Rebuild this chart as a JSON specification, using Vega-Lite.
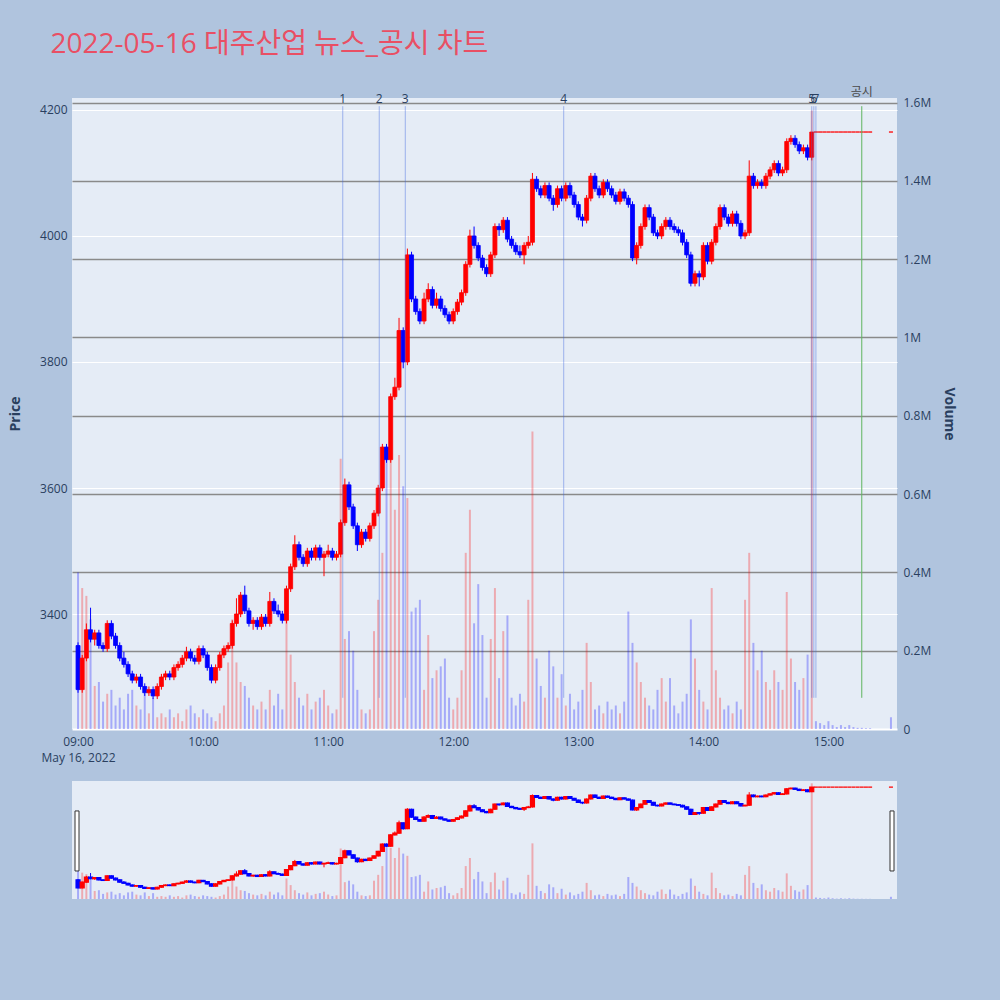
{
"$schema": "https://vega.github.io/schema/vega-lite/v6.json",
"background": "#B0C4DE",
"padding": {"left": 8, "right": 44, "top": 30, "bottom": 103},
"title": {"text": "2022-05-16 대주산업 뉴스_공시 차트", "anchor": "start", "frame": "bounds", "fontSize": 28, "font": "Open Sans, Noto Sans CJK KR", "fontWeight": "normal", "color": "#E94F64", "baseline": "alphabetic", "offset": 5, "dx": 42},
"datasets": {
"ohlc": [
{"t":"2022-05-16T09:00","o":3350,"h":3355,"l":3275,"c":3280,"v":400000},
{"t":"2022-05-16T09:02","o":3280,"h":3335,"l":3275,"c":3330,"v":360000},
{"t":"2022-05-16T09:04","o":3330,"h":3385,"l":3325,"c":3375,"v":340000},
{"t":"2022-05-16T09:06","o":3375,"h":3410,"l":3355,"c":3360,"v":280000},
{"t":"2022-05-16T09:08","o":3360,"h":3375,"l":3350,"c":3370,"v":110000},
{"t":"2022-05-16T09:10","o":3370,"h":3375,"l":3345,"c":3350,"v":120000},
{"t":"2022-05-16T09:12","o":3350,"h":3355,"l":3340,"c":3345,"v":70000},
{"t":"2022-05-16T09:14","o":3345,"h":3390,"l":3340,"c":3385,"v":90000},
{"t":"2022-05-16T09:16","o":3385,"h":3390,"l":3360,"c":3365,"v":100000},
{"t":"2022-05-16T09:18","o":3365,"h":3370,"l":3345,"c":3350,"v":60000},
{"t":"2022-05-16T09:20","o":3350,"h":3355,"l":3325,"c":3330,"v":80000},
{"t":"2022-05-16T09:22","o":3330,"h":3340,"l":3315,"c":3320,"v":50000},
{"t":"2022-05-16T09:24","o":3320,"h":3325,"l":3300,"c":3305,"v":90000},
{"t":"2022-05-16T09:26","o":3305,"h":3310,"l":3290,"c":3295,"v":100000},
{"t":"2022-05-16T09:28","o":3295,"h":3305,"l":3290,"c":3300,"v":60000},
{"t":"2022-05-16T09:30","o":3300,"h":3305,"l":3280,"c":3285,"v":50000},
{"t":"2022-05-16T09:32","o":3285,"h":3290,"l":3270,"c":3275,"v":90000},
{"t":"2022-05-16T09:34","o":3275,"h":3285,"l":3270,"c":3280,"v":40000},
{"t":"2022-05-16T09:36","o":3280,"h":3285,"l":3265,"c":3270,"v":80000},
{"t":"2022-05-16T09:38","o":3270,"h":3290,"l":3265,"c":3285,"v":30000},
{"t":"2022-05-16T09:40","o":3285,"h":3305,"l":3280,"c":3300,"v":40000},
{"t":"2022-05-16T09:42","o":3300,"h":3310,"l":3295,"c":3305,"v":30000},
{"t":"2022-05-16T09:44","o":3305,"h":3310,"l":3295,"c":3300,"v":50000},
{"t":"2022-05-16T09:46","o":3300,"h":3320,"l":3295,"c":3315,"v":30000},
{"t":"2022-05-16T09:48","o":3315,"h":3325,"l":3310,"c":3320,"v":40000},
{"t":"2022-05-16T09:50","o":3320,"h":3335,"l":3315,"c":3330,"v":20000},
{"t":"2022-05-16T09:52","o":3330,"h":3348,"l":3325,"c":3340,"v":50000},
{"t":"2022-05-16T09:54","o":3340,"h":3345,"l":3325,"c":3330,"v":60000},
{"t":"2022-05-16T09:56","o":3330,"h":3335,"l":3320,"c":3325,"v":40000},
{"t":"2022-05-16T09:58","o":3325,"h":3350,"l":3320,"c":3345,"v":30000},
{"t":"2022-05-16T10:00","o":3345,"h":3350,"l":3330,"c":3335,"v":50000},
{"t":"2022-05-16T10:02","o":3335,"h":3340,"l":3310,"c":3315,"v":40000},
{"t":"2022-05-16T10:04","o":3315,"h":3320,"l":3290,"c":3295,"v":30000},
{"t":"2022-05-16T10:06","o":3295,"h":3320,"l":3290,"c":3315,"v":20000},
{"t":"2022-05-16T10:08","o":3315,"h":3340,"l":3310,"c":3335,"v":40000},
{"t":"2022-05-16T10:10","o":3335,"h":3350,"l":3330,"c":3345,"v":60000},
{"t":"2022-05-16T10:12","o":3345,"h":3355,"l":3340,"c":3350,"v":170000},
{"t":"2022-05-16T10:14","o":3350,"h":3390,"l":3345,"c":3385,"v":280000},
{"t":"2022-05-16T10:16","o":3385,"h":3425,"l":3380,"c":3400,"v":170000},
{"t":"2022-05-16T10:18","o":3400,"h":3435,"l":3395,"c":3430,"v":120000},
{"t":"2022-05-16T10:20","o":3430,"h":3445,"l":3400,"c":3405,"v":110000},
{"t":"2022-05-16T10:22","o":3405,"h":3410,"l":3380,"c":3385,"v":80000},
{"t":"2022-05-16T10:24","o":3385,"h":3395,"l":3375,"c":3390,"v":60000},
{"t":"2022-05-16T10:26","o":3390,"h":3395,"l":3375,"c":3380,"v":50000},
{"t":"2022-05-16T10:28","o":3380,"h":3400,"l":3375,"c":3395,"v":70000},
{"t":"2022-05-16T10:30","o":3395,"h":3400,"l":3380,"c":3385,"v":50000},
{"t":"2022-05-16T10:32","o":3385,"h":3435,"l":3380,"c":3420,"v":100000},
{"t":"2022-05-16T10:34","o":3420,"h":3425,"l":3400,"c":3405,"v":60000},
{"t":"2022-05-16T10:36","o":3405,"h":3415,"l":3395,"c":3400,"v":90000},
{"t":"2022-05-16T10:38","o":3400,"h":3405,"l":3385,"c":3390,"v":50000},
{"t":"2022-05-16T10:40","o":3390,"h":3445,"l":3385,"c":3440,"v":280000},
{"t":"2022-05-16T10:42","o":3440,"h":3480,"l":3435,"c":3475,"v":190000},
{"t":"2022-05-16T10:44","o":3475,"h":3525,"l":3470,"c":3510,"v":120000},
{"t":"2022-05-16T10:46","o":3510,"h":3515,"l":3485,"c":3490,"v":80000},
{"t":"2022-05-16T10:48","o":3490,"h":3495,"l":3475,"c":3480,"v":60000},
{"t":"2022-05-16T10:50","o":3480,"h":3505,"l":3475,"c":3500,"v":90000},
{"t":"2022-05-16T10:52","o":3500,"h":3505,"l":3485,"c":3490,"v":50000},
{"t":"2022-05-16T10:54","o":3490,"h":3510,"l":3485,"c":3505,"v":70000},
{"t":"2022-05-16T10:56","o":3505,"h":3510,"l":3485,"c":3490,"v":80000},
{"t":"2022-05-16T10:58","o":3490,"h":3500,"l":3460,"c":3495,"v":100000},
{"t":"2022-05-16T11:00","o":3495,"h":3510,"l":3490,"c":3500,"v":60000},
{"t":"2022-05-16T11:02","o":3500,"h":3505,"l":3485,"c":3490,"v":40000},
{"t":"2022-05-16T11:04","o":3490,"h":3500,"l":3485,"c":3495,"v":50000},
{"t":"2022-05-16T11:06","o":3495,"h":3550,"l":3490,"c":3545,"v":690000},
{"t":"2022-05-16T11:08","o":3545,"h":3615,"l":3540,"c":3605,"v":230000},
{"t":"2022-05-16T11:10","o":3605,"h":3610,"l":3565,"c":3570,"v":250000},
{"t":"2022-05-16T11:12","o":3570,"h":3575,"l":3535,"c":3540,"v":200000},
{"t":"2022-05-16T11:14","o":3540,"h":3545,"l":3500,"c":3510,"v":100000},
{"t":"2022-05-16T11:16","o":3510,"h":3535,"l":3505,"c":3530,"v":50000},
{"t":"2022-05-16T11:18","o":3530,"h":3535,"l":3515,"c":3520,"v":40000},
{"t":"2022-05-16T11:20","o":3520,"h":3545,"l":3515,"c":3540,"v":50000},
{"t":"2022-05-16T11:22","o":3540,"h":3565,"l":3535,"c":3560,"v":250000},
{"t":"2022-05-16T11:24","o":3560,"h":3605,"l":3555,"c":3600,"v":330000},
{"t":"2022-05-16T11:26","o":3600,"h":3670,"l":3595,"c":3665,"v":450000},
{"t":"2022-05-16T11:28","o":3665,"h":3670,"l":3640,"c":3645,"v":720000},
{"t":"2022-05-16T11:30","o":3645,"h":3750,"l":3640,"c":3745,"v":700000},
{"t":"2022-05-16T11:32","o":3745,"h":3775,"l":3740,"c":3760,"v":560000},
{"t":"2022-05-16T11:34","o":3760,"h":3870,"l":3755,"c":3850,"v":700000},
{"t":"2022-05-16T11:36","o":3850,"h":3855,"l":3790,"c":3800,"v":620000},
{"t":"2022-05-16T11:38","o":3800,"h":3980,"l":3795,"c":3970,"v":590000},
{"t":"2022-05-16T11:40","o":3970,"h":3975,"l":3895,"c":3900,"v":300000},
{"t":"2022-05-16T11:42","o":3900,"h":3905,"l":3875,"c":3880,"v":310000},
{"t":"2022-05-16T11:44","o":3880,"h":3885,"l":3860,"c":3865,"v":330000},
{"t":"2022-05-16T11:46","o":3865,"h":3910,"l":3860,"c":3900,"v":100000},
{"t":"2022-05-16T11:48","o":3900,"h":3925,"l":3895,"c":3915,"v":240000},
{"t":"2022-05-16T11:50","o":3915,"h":3920,"l":3885,"c":3890,"v":130000},
{"t":"2022-05-16T11:52","o":3890,"h":3910,"l":3885,"c":3900,"v":150000},
{"t":"2022-05-16T11:54","o":3900,"h":3905,"l":3880,"c":3885,"v":160000},
{"t":"2022-05-16T11:56","o":3885,"h":3890,"l":3870,"c":3875,"v":180000},
{"t":"2022-05-16T11:58","o":3875,"h":3880,"l":3860,"c":3865,"v":80000},
{"t":"2022-05-16T12:00","o":3865,"h":3885,"l":3860,"c":3880,"v":50000},
{"t":"2022-05-16T12:02","o":3880,"h":3900,"l":3875,"c":3895,"v":80000},
{"t":"2022-05-16T12:04","o":3895,"h":3915,"l":3890,"c":3910,"v":150000},
{"t":"2022-05-16T12:06","o":3910,"h":3960,"l":3905,"c":3955,"v":450000},
{"t":"2022-05-16T12:08","o":3955,"h":4010,"l":3950,"c":4000,"v":560000},
{"t":"2022-05-16T12:10","o":4000,"h":4015,"l":3980,"c":3985,"v":270000},
{"t":"2022-05-16T12:12","o":3985,"h":3990,"l":3960,"c":3965,"v":370000},
{"t":"2022-05-16T12:14","o":3965,"h":3970,"l":3945,"c":3950,"v":240000},
{"t":"2022-05-16T12:16","o":3950,"h":3955,"l":3935,"c":3940,"v":80000},
{"t":"2022-05-16T12:18","o":3940,"h":3975,"l":3935,"c":3970,"v":230000},
{"t":"2022-05-16T12:20","o":3970,"h":4020,"l":3965,"c":4015,"v":360000},
{"t":"2022-05-16T12:22","o":4015,"h":4020,"l":4000,"c":4010,"v":130000},
{"t":"2022-05-16T12:24","o":4010,"h":4030,"l":4005,"c":4025,"v":250000},
{"t":"2022-05-16T12:26","o":4025,"h":4030,"l":3990,"c":3995,"v":290000},
{"t":"2022-05-16T12:28","o":3995,"h":4000,"l":3980,"c":3985,"v":80000},
{"t":"2022-05-16T12:30","o":3985,"h":3990,"l":3970,"c":3975,"v":60000},
{"t":"2022-05-16T12:32","o":3975,"h":3985,"l":3965,"c":3970,"v":90000},
{"t":"2022-05-16T12:34","o":3970,"h":3990,"l":3955,"c":3985,"v":70000},
{"t":"2022-05-16T12:36","o":3985,"h":4000,"l":3980,"c":3990,"v":330000},
{"t":"2022-05-16T12:38","o":3990,"h":4100,"l":3985,"c":4090,"v":760000},
{"t":"2022-05-16T12:40","o":4090,"h":4095,"l":4070,"c":4075,"v":180000},
{"t":"2022-05-16T12:42","o":4075,"h":4080,"l":4060,"c":4065,"v":110000},
{"t":"2022-05-16T12:44","o":4065,"h":4085,"l":4060,"c":4080,"v":80000},
{"t":"2022-05-16T12:46","o":4080,"h":4085,"l":4055,"c":4060,"v":200000},
{"t":"2022-05-16T12:48","o":4060,"h":4065,"l":4040,"c":4050,"v":160000},
{"t":"2022-05-16T12:50","o":4050,"h":4080,"l":4045,"c":4075,"v":80000},
{"t":"2022-05-16T12:52","o":4075,"h":4080,"l":4055,"c":4060,"v":140000},
{"t":"2022-05-16T12:54","o":4060,"h":4085,"l":4055,"c":4080,"v":60000},
{"t":"2022-05-16T12:56","o":4080,"h":4085,"l":4060,"c":4065,"v":90000},
{"t":"2022-05-16T12:58","o":4065,"h":4070,"l":4045,"c":4050,"v":50000},
{"t":"2022-05-16T13:00","o":4050,"h":4055,"l":4025,"c":4030,"v":70000},
{"t":"2022-05-16T13:02","o":4030,"h":4035,"l":4015,"c":4025,"v":100000},
{"t":"2022-05-16T13:04","o":4025,"h":4065,"l":4020,"c":4060,"v":220000},
{"t":"2022-05-16T13:06","o":4060,"h":4100,"l":4055,"c":4095,"v":120000},
{"t":"2022-05-16T13:08","o":4095,"h":4100,"l":4070,"c":4075,"v":50000},
{"t":"2022-05-16T13:10","o":4075,"h":4080,"l":4060,"c":4065,"v":60000},
{"t":"2022-05-16T13:12","o":4065,"h":4090,"l":4060,"c":4085,"v":40000},
{"t":"2022-05-16T13:14","o":4085,"h":4090,"l":4070,"c":4075,"v":70000},
{"t":"2022-05-16T13:16","o":4075,"h":4080,"l":4060,"c":4065,"v":50000},
{"t":"2022-05-16T13:18","o":4065,"h":4070,"l":4050,"c":4055,"v":60000},
{"t":"2022-05-16T13:20","o":4055,"h":4075,"l":4050,"c":4070,"v":40000},
{"t":"2022-05-16T13:22","o":4070,"h":4075,"l":4055,"c":4060,"v":70000},
{"t":"2022-05-16T13:24","o":4060,"h":4065,"l":4045,"c":4050,"v":300000},
{"t":"2022-05-16T13:26","o":4050,"h":4055,"l":3960,"c":3965,"v":220000},
{"t":"2022-05-16T13:28","o":3965,"h":3990,"l":3955,"c":3985,"v":170000},
{"t":"2022-05-16T13:30","o":3985,"h":4020,"l":3980,"c":4015,"v":120000},
{"t":"2022-05-16T13:32","o":4015,"h":4050,"l":4010,"c":4045,"v":80000},
{"t":"2022-05-16T13:34","o":4045,"h":4050,"l":4025,"c":4030,"v":60000},
{"t":"2022-05-16T13:36","o":4030,"h":4035,"l":4000,"c":4005,"v":50000},
{"t":"2022-05-16T13:38","o":4005,"h":4010,"l":3995,"c":4000,"v":100000},
{"t":"2022-05-16T13:40","o":4000,"h":4020,"l":3995,"c":4015,"v":130000},
{"t":"2022-05-16T13:42","o":4015,"h":4030,"l":4010,"c":4025,"v":70000},
{"t":"2022-05-16T13:44","o":4025,"h":4030,"l":4010,"c":4015,"v":130000},
{"t":"2022-05-16T13:46","o":4015,"h":4020,"l":4005,"c":4010,"v":60000},
{"t":"2022-05-16T13:48","o":4010,"h":4015,"l":4000,"c":4005,"v":40000},
{"t":"2022-05-16T13:50","o":4005,"h":4010,"l":3985,"c":3990,"v":70000},
{"t":"2022-05-16T13:52","o":3990,"h":3995,"l":3965,"c":3970,"v":90000},
{"t":"2022-05-16T13:54","o":3970,"h":3975,"l":3920,"c":3925,"v":280000},
{"t":"2022-05-16T13:56","o":3925,"h":3945,"l":3920,"c":3940,"v":180000},
{"t":"2022-05-16T13:58","o":3940,"h":3945,"l":3920,"c":3935,"v":100000},
{"t":"2022-05-16T14:00","o":3935,"h":3990,"l":3930,"c":3985,"v":70000},
{"t":"2022-05-16T14:02","o":3985,"h":3990,"l":3955,"c":3960,"v":50000},
{"t":"2022-05-16T14:04","o":3960,"h":3995,"l":3955,"c":3990,"v":360000},
{"t":"2022-05-16T14:06","o":3990,"h":4020,"l":3985,"c":4015,"v":150000},
{"t":"2022-05-16T14:08","o":4015,"h":4050,"l":4010,"c":4045,"v":80000},
{"t":"2022-05-16T14:10","o":4045,"h":4050,"l":4025,"c":4030,"v":50000},
{"t":"2022-05-16T14:12","o":4030,"h":4035,"l":4015,"c":4020,"v":60000},
{"t":"2022-05-16T14:14","o":4020,"h":4040,"l":4015,"c":4035,"v":40000},
{"t":"2022-05-16T14:16","o":4035,"h":4040,"l":4015,"c":4020,"v":70000},
{"t":"2022-05-16T14:18","o":4020,"h":4025,"l":3995,"c":4000,"v":50000},
{"t":"2022-05-16T14:20","o":4000,"h":4010,"l":3995,"c":4005,"v":330000},
{"t":"2022-05-16T14:22","o":4005,"h":4120,"l":4000,"c":4095,"v":450000},
{"t":"2022-05-16T14:24","o":4095,"h":4100,"l":4075,"c":4080,"v":220000},
{"t":"2022-05-16T14:26","o":4080,"h":4090,"l":4075,"c":4085,"v":150000},
{"t":"2022-05-16T14:28","o":4085,"h":4090,"l":4075,"c":4080,"v":200000},
{"t":"2022-05-16T14:30","o":4080,"h":4100,"l":4075,"c":4095,"v":120000},
{"t":"2022-05-16T14:32","o":4095,"h":4110,"l":4090,"c":4105,"v":100000},
{"t":"2022-05-16T14:34","o":4105,"h":4120,"l":4100,"c":4115,"v":150000},
{"t":"2022-05-16T14:36","o":4115,"h":4120,"l":4095,"c":4100,"v":120000},
{"t":"2022-05-16T14:38","o":4100,"h":4110,"l":4095,"c":4105,"v":100000},
{"t":"2022-05-16T14:40","o":4105,"h":4155,"l":4100,"c":4150,"v":350000},
{"t":"2022-05-16T14:42","o":4150,"h":4160,"l":4145,"c":4155,"v":180000},
{"t":"2022-05-16T14:44","o":4155,"h":4160,"l":4140,"c":4145,"v":120000},
{"t":"2022-05-16T14:46","o":4145,"h":4150,"l":4130,"c":4135,"v":100000},
{"t":"2022-05-16T14:48","o":4135,"h":4145,"l":4130,"c":4140,"v":130000},
{"t":"2022-05-16T14:50","o":4140,"h":4145,"l":4120,"c":4125,"v":190000},
{"t":"2022-05-16T14:52","o":4125,"h":4165,"l":4120,"c":4165,"v":1580000},
{"t":"2022-05-16T14:54","o":4165,"h":4165,"l":4165,"c":4165,"v":20000},
{"t":"2022-05-16T14:56","o":4165,"h":4165,"l":4165,"c":4165,"v":15000},
{"t":"2022-05-16T14:58","o":4165,"h":4165,"l":4165,"c":4165,"v":10000},
{"t":"2022-05-16T15:00","o":4165,"h":4165,"l":4165,"c":4165,"v":20000},
{"t":"2022-05-16T15:02","o":4165,"h":4165,"l":4165,"c":4165,"v":10000},
{"t":"2022-05-16T15:04","o":4165,"h":4165,"l":4165,"c":4165,"v":5000},
{"t":"2022-05-16T15:06","o":4165,"h":4165,"l":4165,"c":4165,"v":10000},
{"t":"2022-05-16T15:08","o":4165,"h":4165,"l":4165,"c":4165,"v":5000},
{"t":"2022-05-16T15:10","o":4165,"h":4165,"l":4165,"c":4165,"v":10000},
{"t":"2022-05-16T15:12","o":4165,"h":4165,"l":4165,"c":4165,"v":5000},
{"t":"2022-05-16T15:14","o":4165,"h":4165,"l":4165,"c":4165,"v":3000},
{"t":"2022-05-16T15:16","o":4165,"h":4165,"l":4165,"c":4165,"v":3000},
{"t":"2022-05-16T15:18","o":4165,"h":4165,"l":4165,"c":4165,"v":2000},
{"t":"2022-05-16T15:20","o":4165,"h":4165,"l":4165,"c":4165,"v":2000},
{"t":"2022-05-16T15:30","o":4165,"h":4165,"l":4165,"c":4165,"v":30000}
],
"news": [
{"t":"2022-05-16T11:07","label":"1"},
{"t":"2022-05-16T11:24:30","label":"2"},
{"t":"2022-05-16T11:37","label":"3"},
{"t":"2022-05-16T12:53","label":"4"},
{"t":"2022-05-16T14:52","label":"5"},
{"t":"2022-05-16T14:53","label":"6"},
{"t":"2022-05-16T14:54","label":"7"}
],
"gongsi": [
{"t":"2022-05-16T15:16","label":"공시"}
],
"handles": [
{"t":"2022-05-16T08:59:30"},
{"t":"2022-05-16T15:30:30"}
]
},
"vconcat": [
{
"width": 825, "height": 631,
"encoding": {"x": {"field": "t", "type": "temporal",
  "scale": {"domain": [{"year":2022,"month":5,"date":16,"hours":8,"minutes":59,"seconds":30},{"year":2022,"month":5,"date":16,"hours":15,"minutes":30,"seconds":30}], "nice": false},
  "axis": {"title": null, "grid": false, "format": "%H:%M", "labelFlush": false, "labelOverlap": false, "labelPadding": 7, "labelLineHeight": 16,
    "values": [{"year":2022,"month":5,"date":16,"hours":9},{"year":2022,"month":5,"date":16,"hours":10},{"year":2022,"month":5,"date":16,"hours":11},{"year":2022,"month":5,"date":16,"hours":12},{"year":2022,"month":5,"date":16,"hours":13},{"year":2022,"month":5,"date":16,"hours":14},{"year":2022,"month":5,"date":16,"hours":15}],
    "labelExpr": "hours(datum.value) == 9 ? [datum.label, 'May 16, 2022'] : datum.label"}}},
"layer": [
  {"data": {"name": "ohlc"}, "mark": {"type": "bar", "size": 2, "opacity": 0.28},
   "encoding": {
     "y": {"field": "v", "type": "quantitative", "scale": {"domain": [0, 1611700], "nice": false},
       "axis": {"orient": "right", "title": "Volume", "values": [0,200000,400000,600000,800000,1000000,1200000,1400000,1600000],
         "labelExpr": "datum.value == 0 ? '0' : format(datum.value / 1000000, '~g') + 'M'",
         "grid": true, "gridColor": {"condition": {"test": "datum.value == 0", "value": "#ffffff"}, "value": "#8a8a8a"},
         "gridWidth": {"condition": {"test": "datum.value == 0", "value": 2}, "value": 1.3},
         "labelPadding": 6, "titlePadding": 11}},
     "color": {"condition": {"test": "datum.c > datum.o", "value": "#ff0000"}, "value": "#0000ff"}}},
  {"layer": [
    {"data": {"name": "ohlc"}, "mark": {"type": "rule", "strokeWidth": 1},
     "encoding": {
       "y": {"field": "l", "type": "quantitative", "title": "Price", "scale": {"domain": [3217.5, 4219], "nice": false, "zero": false},
         "axis": {"orient": "left", "title": "Price", "format": "d", "values": [3400, 3600, 3800, 4000, 4200], "grid": true, "gridColor": "#ffffff", "gridWidth": 1, "labelPadding": 5, "titlePadding": 17}},
       "y2": {"field": "h"},
       "color": {"condition": {"test": "datum.c >= datum.o", "value": "#ff0000"}, "value": "#0000ff"}}},
    {"data": {"name": "ohlc"}, "mark": {"type": "bar", "size": 4, "strokeWidth": 0.8},
     "encoding": {
       "y": {"field": "o", "type": "quantitative", "title": "Price", "scale": {"domain": [3217.5, 4219], "nice": false, "zero": false}},
       "y2": {"field": "c"},
       "color": {"condition": {"test": "datum.c >= datum.o", "value": "#ff0000"}, "value": "#0000ff"},
       "stroke": {"condition": {"test": "datum.c >= datum.o", "value": "#ff0000"}, "value": "#0000ff"}}},
    {"data": {"name": "news"}, "mark": {"type": "rule", "color": "#4169E1", "opacity": 0.45, "strokeWidth": 1},
     "encoding": {
       "y": {"datum": 4206, "type": "quantitative", "scale": {"domain": [3217.5, 4219], "nice": false, "zero": false}},
       "y2": {"datum": 3267}}},
    {"data": {"name": "news"}, "mark": {"type": "text", "fontSize": 12, "font": "Open Sans", "color": "#2a3f5f", "baseline": "middle"},
     "encoding": {
       "y": {"datum": 4218, "type": "quantitative", "scale": {"domain": [3217.5, 4219], "nice": false, "zero": false}},
       "text": {"field": "label"}}},
    {"data": {"name": "gongsi"}, "mark": {"type": "rule", "color": "#5FB45F", "strokeWidth": 1},
     "encoding": {
       "y": {"datum": 4206, "type": "quantitative", "scale": {"domain": [3217.5, 4219], "nice": false, "zero": false}},
       "y2": {"datum": 3267}}},
    {"data": {"name": "gongsi"}, "mark": {"type": "text", "fontSize": 12, "font": "Noto Sans CJK KR", "color": "#4a4a4a", "baseline": "middle"},
     "encoding": {
       "y": {"datum": 4229, "type": "quantitative", "scale": {"domain": [3217.5, 4219], "nice": false, "zero": false}},
       "text": {"field": "label"}}}
  ]}
],
"resolve": {"scale": {"y": "independent"}}
},
{
"width": 825, "height": 118,
"encoding": {"x": {"field": "t", "type": "temporal",
  "scale": {"domain": [{"year":2022,"month":5,"date":16,"hours":8,"minutes":59,"seconds":30},{"year":2022,"month":5,"date":16,"hours":15,"minutes":30,"seconds":30}], "nice": false},
  "axis": null}},
"layer": [
  {"data": {"name": "ohlc"}, "mark": {"type": "bar", "size": 2, "opacity": 0.28},
   "encoding": {
     "y": {"field": "v", "type": "quantitative", "scale": {"domain": [0, 1611700], "nice": false}, "axis": null},
     "color": {"condition": {"test": "datum.c > datum.o", "value": "#ff0000"}, "value": "#0000ff"}}},
  {"layer": [
    {"data": {"name": "ohlc"}, "mark": {"type": "rule", "strokeWidth": 1},
     "encoding": {
       "y": {"field": "l", "type": "quantitative", "scale": {"domain": [3182, 4218], "nice": false, "zero": false}, "axis": null},
       "y2": {"field": "h"},
       "color": {"condition": {"test": "datum.c >= datum.o", "value": "#ff0000"}, "value": "#0000ff"}}},
    {"data": {"name": "ohlc"}, "mark": {"type": "bar", "size": 4, "strokeWidth": 1.2},
     "encoding": {
       "y": {"field": "o", "type": "quantitative", "scale": {"domain": [3182, 4218], "nice": false, "zero": false}, "axis": null},
       "y2": {"field": "c"},
       "color": {"condition": {"test": "datum.c >= datum.o", "value": "#ff0000"}, "value": "#0000ff"},
       "stroke": {"condition": {"test": "datum.c >= datum.o", "value": "#ff0000"}, "value": "#0000ff"}}},
    {"data": {"name": "handles"}, "mark": {"type": "rect", "width": 4, "fill": "#ffffff", "stroke": "#333333", "strokeWidth": 1},
     "encoding": {
       "y": {"datum": 3955, "type": "quantitative", "scale": {"domain": [3182, 4218], "nice": false, "zero": false}, "axis": null},
       "y2": {"datum": 3428}}}
  ]}
],
"resolve": {"scale": {"y": "independent"}}
}
],
"spacing": 52,
"bounds": "flush",
"resolve": {"scale": {"x": "independent", "y": "independent"}},
"config": {
  "view": {"fill": "#E5ECF6", "stroke": null},
  "axis": {"domain": false, "ticks": false, "tickSize": 0, "labelFont": "Open Sans", "labelFontSize": 12, "labelColor": "#2a3f5f", "titleFont": "Open Sans", "titleFontSize": 14, "titleColor": "#2a3f5f", "titleFontWeight": "bold"}
}
}
